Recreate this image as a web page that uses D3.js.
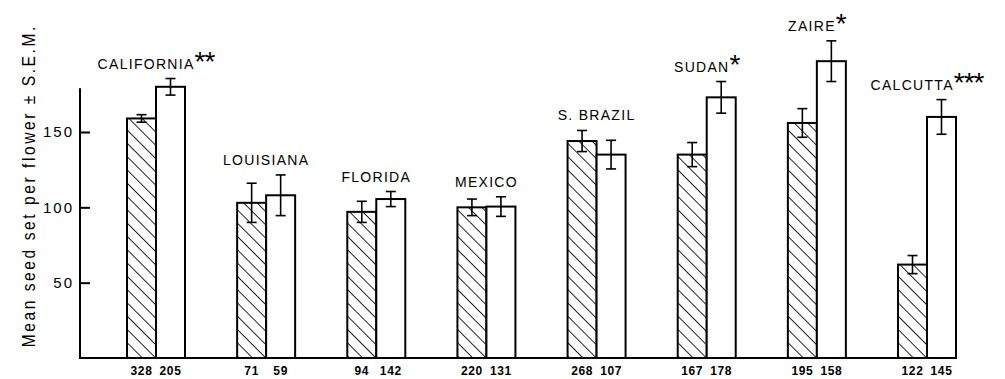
<!DOCTYPE html>
<html>
<head>
<meta charset="utf-8">
<script src="https://cdn.jsdelivr.net/npm/d3@7"></script>
<style>
  html, body { margin: 0; padding: 0; background: #fff; }
  svg { display: block; font-family: "Liberation Sans", Arial, sans-serif; }
</style>
</head>
<body>
<svg id="chart" width="1005" height="379"></svg>
<script>
// Seed set per flower by locality: hatched vs open bars, with S.E.M.
const localities = ["CALIFORNIA", "LOUISIANA", "FLORIDA", "MEXICO", "S. BRAZIL", "SUDAN", "ZAIRE", "CALCUTTA"];
const significance = ["**", "", "", "", "", "*", "*", "***"];
const hatchedMean = [159, 103, 97, 100, 144, 135, 156, 62];
const hatchedSem  = [2.5, 13, 7, 5.5, 7, 8, 9.5, 6];
const openMean    = [180, 108, 105.5, 100.5, 135, 173, 197, 160];
const openSem     = [5.5, 13.5, 5, 6.5, 9.5, 10.5, 13.5, 11.5];
const hatchedN    = [328, 71, 94, 220, 268, 167, 195, 122];
const openN       = [205, 59, 142, 131, 107, 178, 158, 145];
const yTicks      = [50, 100, 150];
const yAxisTop    = 179;
const yTitle      = "Mean seed set per flower \u00B1 S.E.M.";

const svg = d3.select("#chart");

const x = d3.scalePoint().domain(localities).range([156, 927]);
const y = d3.scaleLinear().domain([0, 150]).range([358, 132]);
const barW = 29;

// diagonal hatch (top-left to bottom-right)
const hatchGap = 9.4;
svg.append("defs").append("pattern")
  .attr("id", "hatch")
  .attr("patternUnits", "userSpaceOnUse")
  .attr("width", hatchGap).attr("height", hatchGap)
  .attr("patternTransform", "rotate(-45)")
  .append("line")
  .attr("x1", 0).attr("y1", 0).attr("x2", 0).attr("y2", hatchGap)
  .attr("stroke", "#000").attr("stroke-width", 1.7);

const rows = localities.map((name, i) => ({
  name, stars: significance[i],
  bars: [
    { kind: "hatched", mean: hatchedMean[i], sem: hatchedSem[i], n: hatchedN[i], off: -barW },
    { kind: "open", mean: openMean[i], sem: openSem[i], n: openN[i], off: 0 }
  ]
}));

// y axis: inward ticks
const axis = d3.axisLeft(y).tickValues(yTicks).tickSize(-10).tickPadding(8).tickFormat(d3.format("d"));
const gAxis = svg.append("g").attr("transform", "translate(80,0)").call(axis);
gAxis.select(".domain").remove();
gAxis.selectAll(".tick line").attr("stroke", "#000").attr("stroke-width", 2);
gAxis.selectAll(".tick text")
  .attr("font-size", 15).attr("letter-spacing", 2)
  .attr("fill", "#000").attr("x", -6);
svg.append("line")
  .attr("x1", 80).attr("x2", 80).attr("y1", y(0)).attr("y2", y(yAxisTop))
  .attr("stroke", "#000").attr("stroke-width", 2);

// bars
const groups = svg.append("g").selectAll("g").data(rows).join("g")
  .attr("transform", d => `translate(${x(d.name)},0)`);

groups.selectAll("rect").data(d => d.bars).join("rect")
  .attr("x", b => b.off)
  .attr("y", b => y(b.mean))
  .attr("width", barW)
  .attr("height", b => y(0) - y(b.mean))
  .attr("fill", b => b.kind === "hatched" ? "url(#hatch)" : "#fff")
  .attr("stroke", "#000").attr("stroke-width", 2);

// error bars
const err = groups.selectAll("g.err").data(d => d.bars).join("g").attr("class", "err")
  .attr("transform", b => `translate(${b.off + barW / 2},0)`)
  .attr("stroke", "#000").attr("stroke-width", 1.6);
err.append("line").attr("x1", 0).attr("x2", 0)
  .attr("y1", b => y(b.mean + b.sem)).attr("y2", b => y(b.mean - b.sem));
err.append("line").attr("x1", -5).attr("x2", 5)
  .attr("y1", b => y(b.mean + b.sem)).attr("y2", b => y(b.mean + b.sem));
err.append("line").attr("x1", -5).attr("x2", 5)
  .attr("y1", b => y(b.mean - b.sem)).attr("y2", b => y(b.mean - b.sem));

// sample sizes under each bar
groups.selectAll("text.n").data(d => d.bars).join("text").attr("class", "n")
  .attr("x", b => b.off + barW / 2)
  .attr("y", 375)
  .attr("text-anchor", "middle")
  .attr("font-size", 12).attr("font-weight", "bold")
  .attr("letter-spacing", 0.6)
  .text(b => b.n);

// locality labels with significance stars
const lab = groups.append("text")
  .attr("x", 0)
  .attr("y", d => y(d3.max(d.bars, b => b.mean + b.sem)) - 10)
  .attr("text-anchor", "middle")
  .attr("font-size", 14).attr("letter-spacing", 1.3)
  .attr("fill", "#000");
lab.append("tspan").text(d => d.name);
lab.append("tspan").attr("dy", 2).attr("font-size", 28).attr("letter-spacing", -1)
  .text(d => d.stars);

// baseline
svg.append("line")
  .attr("x1", 79).attr("x2", x(localities[localities.length - 1]) + barW)
  .attr("y1", y(0)).attr("y2", y(0))
  .attr("stroke", "#000").attr("stroke-width", 2);

// y axis title
svg.append("text")
  .attr("transform", "translate(35,187) rotate(-90) scale(0.82,1)")
  .attr("text-anchor", "middle")
  .attr("font-size", 19)
  .attr("textLength", 391).attr("lengthAdjust", "spacing")
  .attr("fill", "#000")
  .text(yTitle);
</script>
</body>
</html>
